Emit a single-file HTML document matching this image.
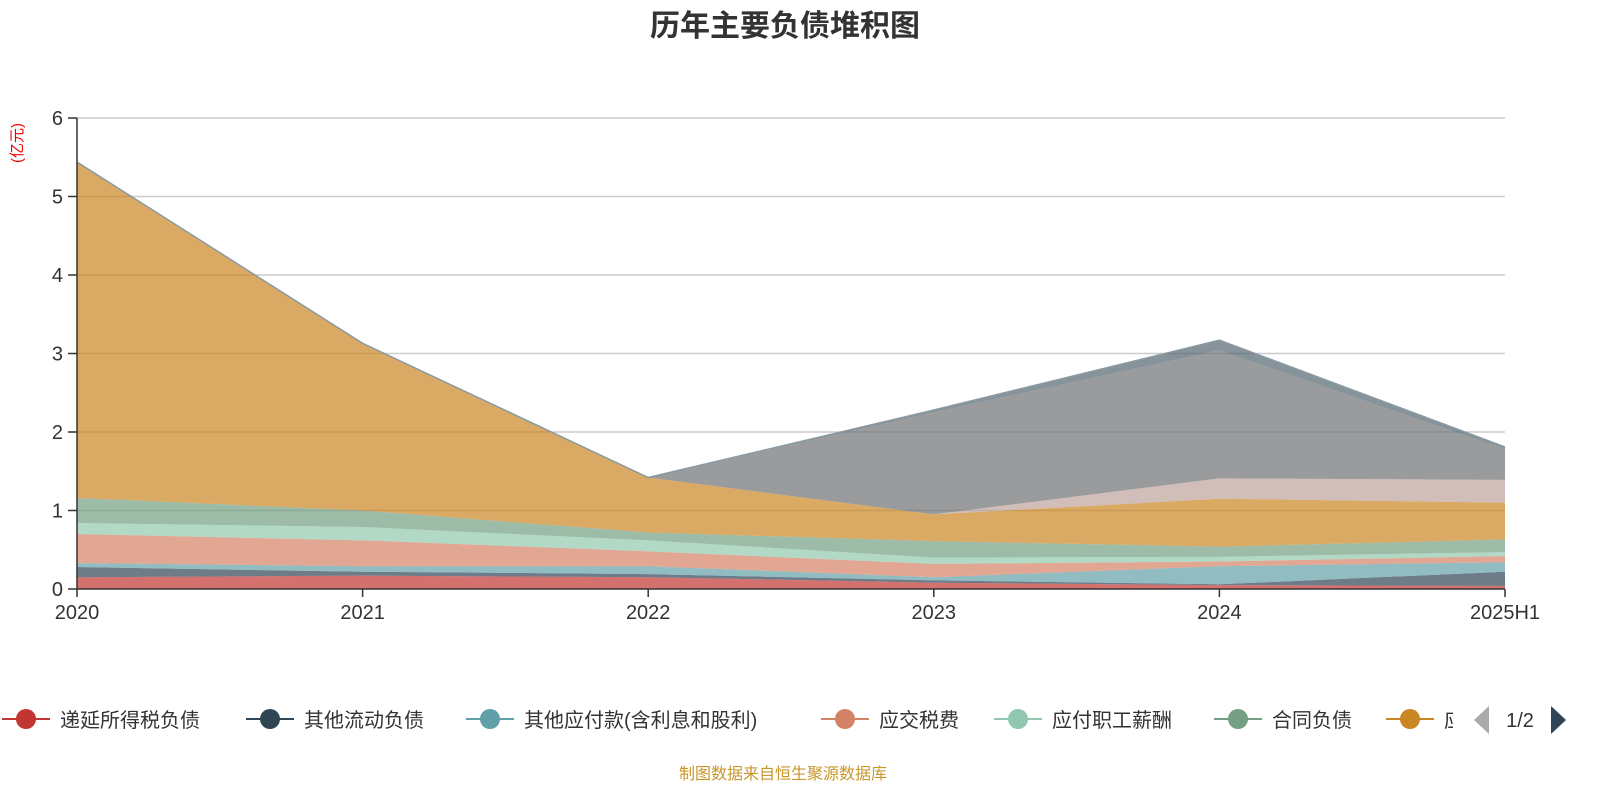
<!DOCTYPE html>
<html><head><meta charset="utf-8">
<style>
body{margin:0;background:#fff;font-family:"Liberation Sans","Noto Sans CJK SC",sans-serif;}
svg text{font-family:"Liberation Sans","Noto Sans CJK SC",sans-serif;}
</style></head>
<body>
<svg id="chart" width="1600" height="800" viewBox="0 0 1600 800" xmlns="http://www.w3.org/2000/svg">
<text x="785" y="36" text-anchor="middle" font-size="30" font-weight="bold" fill="#333">历年主要负债堆积图</text>
<text transform="translate(22,143) rotate(-90)" text-anchor="middle" font-size="15" fill="#e00">(亿元)</text>
<g id="grid"></g>
<g id="areas"></g>
<g id="axes"></g>
<g id="legend"></g>
<text x="783" y="779" text-anchor="middle" font-size="16" fill="#c8962a">制图数据来自恒生聚源数据库</text>
</svg>
<script>
const categories = ["2020","2021","2022","2023","2024","2025H1"];
const seriesNames = ["递延所得税负债","其他流动负债","其他应付款(含利息和股利)","应交税费","应付职工薪酬","合同负债","应付账款","短期借款","应付票据","其他负债"];
const s0 = [0.15,0.17,0.15,0.08,0.05,0.04];
const s1 = [0.13,0.05,0.04,0.03,0.01,0.18];
const s2 = [0.05,0.07,0.10,0.04,0.23,0.12];
const s3 = [0.37,0.33,0.19,0.17,0.06,0.08];
const s4 = [0.14,0.17,0.14,0.08,0.06,0.05];
const s5 = [0.32,0.21,0.10,0.21,0.13,0.16];
const s6 = [4.28,2.13,0.70,0.34,0.61,0.47];
const s7 = [0,0,0,0,0.26,0.29];
const s8 = [0,0,0,1.30,1.63,0.39];
const s9 = [0,0,0,0.03,0.13,0.03];
const yTicks = [0,1,2,3,4,5,6];
const allSeries = [s0,s1,s2,s3,s4,s5,s6,s7,s8,s9];
const colors = ["#c23531","#2f4554","#61a0a8","#d48265","#91c7ae","#749f83","#ca8622","#bda29a","#6e7074","#546570"];
const X0=77, X1=1505, Y0=589, Ymax=6, YTOP=118;
const xs = i => X0 + (X1-X0)*i/(categories.length-1);
const ys = v => Y0 - (Y0-YTOP)*v/Ymax;
const NS="http://www.w3.org/2000/svg";
function mk(tag, attrs, parent){const e=document.createElementNS(NS,tag);for(const k in attrs)e.setAttribute(k,attrs[k]);parent.appendChild(e);return e;}
const grid=document.getElementById('grid'), areas=document.getElementById('areas'), axes=document.getElementById('axes'), legend=document.getElementById('legend');
yTicks.forEach(t=>{
  if(t>0){const l=mk('line',{x1:X0,x2:X1,y1:ys(t),y2:ys(t),stroke:'#ccc','stroke-width':1.5},grid);
  
  }
  const tk=mk('line',{x1:X0-9,x2:X0,y1:ys(t),y2:ys(t),stroke:'#333','stroke-width':1.5},axes);
  
  
  const tx=mk('text',{x:X0-14,y:ys(t)+7,'text-anchor':'end','font-size':20,fill:'#333'},axes);
  tx.textContent=t;
  
  
});
let base = categories.map(()=>0);
allSeries.forEach((s,k)=>{
  const top = s.map((v,i)=>base[i]+v);
  let d='M'+categories.map((c,i)=>xs(i)+','+ys(top[i])).join(' L');
  for(let i=categories.length-1;i>=0;i--) d+=' L'+xs(i)+','+ys(base[i]);
  d+=' Z';
  const p=mk('path',{d:d,fill:colors[k],'fill-opacity':0.7,stroke:'none'},areas);
  
  
  base=top;
});
const topLine=mk('polyline',{points:categories.map((c,i)=>xs(i)+','+ys(base[i])).join(' '),fill:'none',stroke:'#8a9aa0','stroke-width':1.5},areas);


const ya=mk('line',{x1:X0,x2:X0,y1:YTOP,y2:Y0,stroke:'#333','stroke-width':1.5},axes);


const xa=mk('line',{x1:X0,x2:X1,y1:Y0,y2:Y0,stroke:'#333','stroke-width':1.5},axes);


categories.forEach((c,i)=>{
  const tk=mk('line',{x1:xs(i),x2:xs(i),y1:Y0,y2:Y0+8,stroke:'#333','stroke-width':1.5},axes);
  
  
  const tx=mk('text',{x:xs(i),y:Y0+30,'text-anchor':'middle','font-size':20,fill:'#333'},axes);
  tx.textContent=c;
  
  
});
const legX=[26,270,490,845,1018,1238,1410];
const clip=mk('clipPath',{id:'legclip'},legend);
mk('rect',{x:0,y:690,width:1453,height:60},clip);
const lg=mk('g',{'clip-path':'url(#legclip)'},legend);
legX.forEach((x,k)=>{
  const g=mk('g',{},lg);
  
  
  mk('line',{x1:x-24,x2:x+24,y1:719,y2:719,stroke:colors[k],'stroke-width':2},g);
  mk('circle',{cx:x,cy:719,r:10,fill:colors[k]},g);
  const t=mk('text',{x:x+34,y:727,'font-size':20,fill:'#333'},g);
  t.textContent=seriesNames[k];
});
const pl=mk('path',{d:'M1489,706 L1489,734 L1474,720 Z',fill:'#aaa'},legend);


const pt=mk('text',{x:1520,y:727,'text-anchor':'middle','font-size':20,fill:'#333'},legend);
pt.textContent='1/2';


const pr=mk('path',{d:'M1551,706 L1551,734 L1566,720 Z',fill:'#2f4554'},legend);


</script>
</body></html>
